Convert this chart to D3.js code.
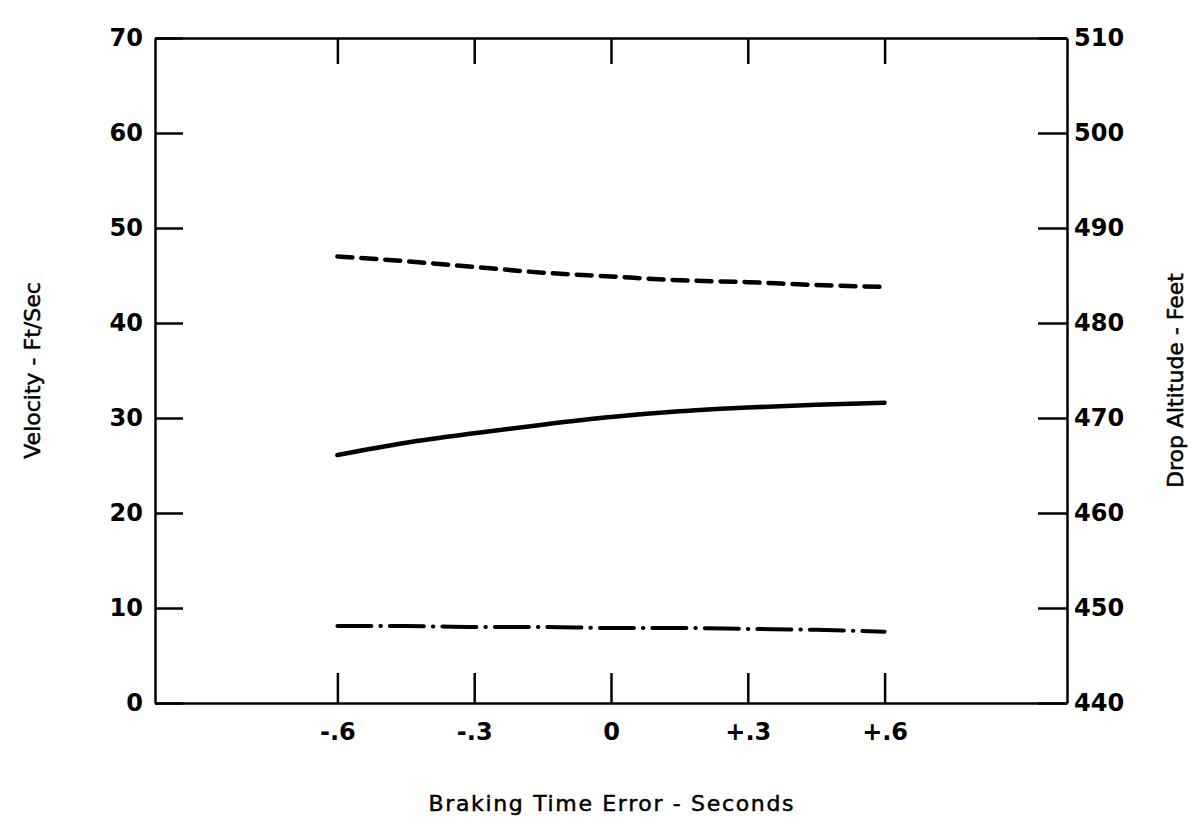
<!DOCTYPE html>
<html>
<head>
<meta charset="utf-8">
<script src="https://cdn.jsdelivr.net/npm/d3@7"></script>
<style>
  body { margin: 0; background: #fff; }
  svg { display: block; }
  .axis path, .axis line { stroke: #000; stroke-width: 2.5; }
  .axis text { font-family: "DejaVu Sans", sans-serif; font-size: 24px; font-weight: bold; fill: #000; }
  .title { font-family: "DejaVu Sans", sans-serif; font-size: 22px; fill: #000; stroke: #000; stroke-width: 0.5; }
</style>
</head>
<body>
<div id="chart"></div>
<script>
// Chart frame
const W = 1192, H = 826;
const margin = { top: 38, right: 125, bottom: 123, left: 155 };
const width = W - margin.left - margin.right;
const height = H - margin.top - margin.bottom;

// Tick values and labels
const xTicks = [-0.6, -0.3, 0, 0.3, 0.6];
const xTickLabels = ["-.6", "-.3", "0", "+.3", "+.6"];
const velTicks = [0, 10, 20, 30, 40, 50, 60, 70];
const altTicks = [440, 450, 460, 470, 480, 490, 500, 510];

// Series
const brakingError = [-0.6, -0.45, -0.3, -0.15, 0, 0.15, 0.3, 0.45, 0.6];
const velocitySolid = [26.1, 27.4, 28.4, 29.3, 30.1, 30.7, 31.1, 31.4, 31.6];
const altitudeDashed = [487.0, 486.5, 485.9, 485.3, 484.9, 484.5, 484.3, 484.0, 483.8];
const velocityDashDot = [8.1, 8.1, 8.0, 8.0, 7.9, 7.9, 7.8, 7.7, 7.5];

const svg = d3.select("#chart").append("svg")
    .attr("width", W)
    .attr("height", H)
  .append("g")
    .attr("transform", `translate(${margin.left},${margin.top})`);

const x = d3.scaleLinear().domain([-1, 1]).range([0, width]);
const yVel = d3.scaleLinear().domain([0, 70]).range([height, 0]);
const yAlt = d3.scaleLinear().domain([440, 510]).range([height, 0]);

const fmtX = d => xTickLabels[xTicks.indexOf(d)];

// Axes, ticks pointing inward
svg.append("g").attr("class", "axis")
    .attr("transform", `translate(0,${height})`)
    .call(d3.axisBottom(x).tickValues(xTicks).tickFormat(fmtX)
        .tickSizeInner(-30).tickSizeOuter(0).tickPadding(20));

svg.append("g").attr("class", "axis")
    .call(d3.axisTop(x).tickValues(xTicks).tickFormat("")
        .tickSizeInner(-26).tickSizeOuter(0));

svg.append("g").attr("class", "axis")
    .call(d3.axisLeft(yVel).tickValues(velTicks)
        .tickSizeInner(-28).tickSizeOuter(0).tickPadding(12));

svg.append("g").attr("class", "axis")
    .attr("transform", `translate(${width},0)`)
    .call(d3.axisRight(yAlt).tickValues(altTicks)
        .tickSizeInner(-29).tickSizeOuter(0).tickPadding(7));

// Lines
const lineVel = d3.line()
    .x((d, i) => x(brakingError[i]))
    .y(d => yVel(d))
    .curve(d3.curveMonotoneX);

const lineAlt = d3.line()
    .x((d, i) => x(brakingError[i]))
    .y(d => yAlt(d))
    .curve(d3.curveMonotoneX);

svg.append("path")
    .datum(velocitySolid)
    .attr("fill", "none")
    .attr("stroke", "#000")
    .attr("stroke-width", 4.5)
    .attr("stroke-linecap", "round")
    .attr("d", lineVel);

svg.append("path")
    .datum(altitudeDashed)
    .attr("fill", "none")
    .attr("stroke", "#000")
    .attr("stroke-width", 4.5)
    .attr("stroke-linecap", "round")
    .attr("stroke-dasharray", "15 9")
    .attr("d", lineAlt);

svg.append("path")
    .datum(velocityDashDot)
    .attr("fill", "none")
    .attr("stroke", "#000")
    .attr("stroke-width", 4)
    .attr("stroke-linecap", "round")
    .attr("stroke-dasharray", "34 9 0.5 9")
    .attr("d", lineVel);

// Axis titles
svg.append("text")
    .attr("class", "title")
    .attr("x", x(0))
    .attr("y", height + 108)
    .attr("text-anchor", "middle")
    .attr("textLength", 365)
    .text("Braking Time Error - Seconds");

svg.append("text")
    .attr("class", "title")
    .attr("transform", `translate(${-115},${height / 2}) rotate(-90)`)
    .attr("text-anchor", "middle")
    .text("Velocity - Ft/Sec");

svg.append("text")
    .attr("class", "title")
    .attr("transform", `translate(${width + 116},${height / 2 + 10}) rotate(-90)`)
    .attr("text-anchor", "middle")
    .text("Drop Altitude - Feet");
</script>
</body>
</html>
